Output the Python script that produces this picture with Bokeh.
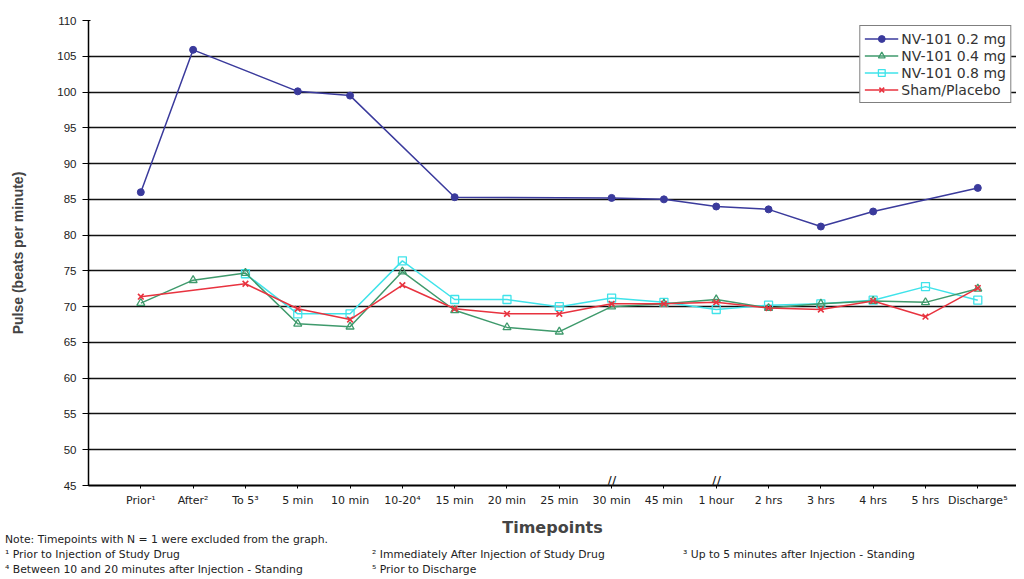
from bokeh.plotting import figure
from bokeh.embed import file_html
from bokeh.resources import INLINE
from bokeh.models import FixedTicker, Label, Legend, LegendItem, Div
from bokeh.layouts import column

# ---------------- data ----------------
timepoints = ["Prior\u00b9", "After\u00b2", "To 5\u00b3", "5 min", "10 min", "10-20\u2074",
              "15 min", "20 min", "25 min", "30 min", "45 min", "1 hour",
              "2 hrs", "3 hrs", "4 hrs", "5 hrs", "Discharge\u2075"]
N = None
nv_02 = [86.0, 105.9, N, 100.1, 99.5, N, 85.3, N, N, 85.2, 85.0, 84.0, 83.6, 81.2, 83.3, N, 86.6]
nv_04 = [70.5, 73.7, 74.7, 67.6, 67.2, 74.9, 69.5, 67.1, 66.5, 70.0, 70.4, 71.0, 69.8, 70.4, 70.8, 70.6, 72.5]
nv_08 = [N, N, 74.6, 69.0, 69.0, 76.4, 71.0, 71.0, 70.0, 71.2, 70.6, 69.6, 70.2, 70.4, 70.9, 72.8, 70.9]
sham = [71.4, N, 73.2, 69.7, 68.2, 73.0, 69.7, 69.0, 69.0, 70.4, 70.4, 70.6, 69.8, 69.6, 70.8, 68.6, 72.6]
y_ticks = list(range(45, 111, 5))
series_names = ["NV-101 0.2 mg", "NV-101 0.4 mg", "NV-101 0.8 mg", "Sham/Placebo"]
footnotes = [
    "Note: Timepoints with N = 1 were excluded from the graph.",
    "\u00b9 Prior to Injection of Study Drug",
    "\u00b2 Immediately After Injection of Study Drug",
    "\u00b3 Up to 5 minutes after Injection - Standing",
    "\u2074 Between 10 and 20 minutes after Injection - Standing",
    "\u2075 Prior to Discharge",
]

FONT = "Liberation Sans"
WFONT = "DejaVu Sans"
W = 1016
H1 = 539
BB = 54

p = figure(width=W, height=H1, output_backend="svg", toolbar_location=None,
           x_range=(0, 17.74), y_range=(45, 110),
           min_border_left=88, min_border_right=0, min_border_top=20, min_border_bottom=BB)
p.outline_line_color = None
p.background_fill_color = "white"

xs = list(range(1, len(timepoints) + 1))

def pts(vals):
    px, py = [], []
    for x, v in zip(xs, vals):
        if v is not None:
            px.append(x)
            py.append(v)
    return px, py

NAVY, GREEN, CYAN, RED = "#3a3a9c", "#3f9a6c", "#3fe3ea", "#e8333f"

x, y = pts(nv_02)
l1 = p.line(x, y, line_color=NAVY, line_width=1.5)
m1 = p.scatter(x, y, marker="circle", size=7, fill_color=NAVY, line_color=NAVY)

x, y = pts(nv_08)
l3 = p.line(x, y, line_color=CYAN, line_width=1.5)
m3 = p.scatter(x, y, marker="square", size=8, fill_color="white", fill_alpha=0.0,
               line_color=CYAN, line_width=1.3)

x, y = pts(nv_04)
l2 = p.line(x, y, line_color=GREEN, line_width=1.5)
m2 = p.scatter(x, y, marker="triangle", size=8, fill_color="white", fill_alpha=0.0,
               line_color=GREEN, line_width=1.3)

x, y = pts(sham)
l4 = p.line(x, y, line_color=RED, line_width=1.5)
m4 = p.scatter(x, y, marker="x", size=8, line_color=RED, line_width=1.6)

legend = Legend(items=[
    LegendItem(label=series_names[0], renderers=[l1, m1]),
    LegendItem(label=series_names[1], renderers=[l2, m2]),
    LegendItem(label=series_names[2], renderers=[l3, m3]),
    LegendItem(label=series_names[3], renderers=[l4, m4]),
], location="top_right")
legend.margin = 5
legend.padding = 4
legend.spacing = 0
legend.glyph_width = 34
legend.glyph_height = 17
legend.label_height = 17
legend.label_standoff = 3
legend.label_text_font = WFONT
legend.label_text_font_size = "14px"
legend.label_text_color = "#333333"
legend.border_line_color = "black"
legend.border_line_width = 1
legend.background_fill_color = "white"
legend.background_fill_alpha = 1.0
p.add_layout(legend)

# axes
p.yaxis.ticker = FixedTicker(ticks=y_ticks)
p.xaxis.ticker = FixedTicker(ticks=xs)
p.xaxis.major_label_overrides = {i + 1: t for i, t in enumerate(timepoints)}
p.xaxis.minor_tick_line_color = None
p.yaxis.minor_tick_line_color = None

p.ygrid.grid_line_color = "#111111"
p.ygrid.grid_line_width = 1.3
p.xgrid.grid_line_color = None

p.yaxis.axis_line_color = "black"
p.yaxis.axis_line_width = 1.5
p.yaxis.major_tick_line_color = "black"
p.yaxis.major_tick_out = 6
p.yaxis.major_tick_in = 2
p.yaxis.major_label_standoff = 6
p.yaxis.major_label_text_font = FONT
p.yaxis.major_label_text_font_size = "11.5px"
p.yaxis.major_label_text_color = "#222222"
p.yaxis.axis_label = "Pulse (beats per minute)"
p.yaxis.axis_label_text_font = FONT
p.yaxis.axis_label_text_font_style = "bold"
p.yaxis.axis_label_text_font_size = "14px"
p.yaxis.axis_label_standoff = 28

p.xaxis.axis_line_color = "black"
p.xaxis.axis_line_width = 2
p.xaxis.major_tick_line_color = "black"
p.xaxis.major_tick_out = 3
p.xaxis.major_tick_in = 0
p.xaxis.major_label_standoff = 5
p.xaxis.major_label_text_font = WFONT
p.xaxis.major_label_text_font_size = "11px"
p.xaxis.major_label_text_color = "#222222"
p.xaxis.axis_label = "Timepoints"
p.xaxis.axis_label_text_font = WFONT
p.xaxis.axis_label_text_font_style = "bold"
p.xaxis.axis_label_text_font_size = "16px"
p.xaxis.axis_label_standoff = 8

# axis break marks at "30 min" and "1 hour"
for bx in (10, 12):
    p.add_layout(Label(x=bx, y=45, y_offset=5, text="//", text_font=WFONT, text_font_size="14px",
                       text_align="center", text_baseline="middle", text_color="#222222"))

# footnote strip as positioned HTML text
note_pos = [(5, -5), (5, 10), (372, 10), (683, 10), (5, 25), (372, 25)]
spans = "".join(
    '<span style="position:absolute;left:%dpx;top:%dpx;white-space:nowrap;">%s</span>' % (lx, ty, t)
    for (lx, ty), t in zip(note_pos, footnotes)
)
notes_div = Div(
    text='<div style="position:relative;width:%dpx;height:38px;font-family:\'DejaVu Sans\';'
         'font-size:10.8px;line-height:12px;color:#222222;">%s</div>' % (W, spans),
    width=W, height=38, margin=(0, 0, 0, 0))

layout = column(p, notes_div, spacing=0)
open("out.html", "w").write(file_html(layout, INLINE))
